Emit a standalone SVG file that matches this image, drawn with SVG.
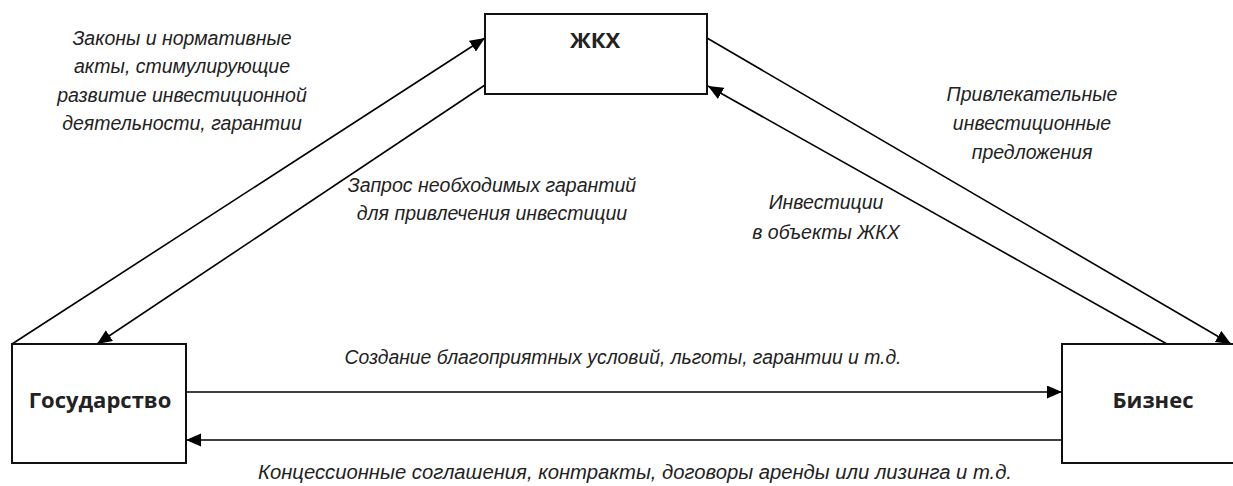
<svg xmlns="http://www.w3.org/2000/svg" width="1233" height="486" viewBox="0 0 1233 486">
<defs>
<style>
.box{fill:#fff;stroke:#111;stroke-width:2}
.lbl{font-family:"Open Sans","Liberation Sans",sans-serif;font-weight:700;font-size:22px;fill:#222;text-anchor:middle}
.it{font-family:"Liberation Sans",Arial,sans-serif;font-style:italic;font-size:19.5px;fill:#222;text-anchor:middle}
.ln{stroke:#000;stroke-width:1.6;fill:none}
</style>
<marker id="ah" markerUnits="userSpaceOnUse" markerWidth="16" markerHeight="14" refX="15" refY="6.5" orient="auto">
<path d="M0,0 L15,6.5 L0,13 z" fill="#000"/>
</marker>
</defs>
<rect width="1233" height="486" fill="#fff"/>
<g id="connectors">
<line class="ln" x1="12" y1="344" x2="485" y2="38" marker-end="url(#ah)"/>
<line class="ln" x1="485" y1="85" x2="97" y2="344" marker-end="url(#ah)"/>
<line class="ln" x1="707" y1="38" x2="1231" y2="344" marker-end="url(#ah)"/>
<line class="ln" x1="1167" y1="344" x2="708" y2="86" marker-end="url(#ah)"/>
<line class="ln" x1="186" y1="392" x2="1062" y2="392" marker-end="url(#ah)"/>
<line class="ln" x1="1062" y1="440" x2="186" y2="440" marker-end="url(#ah)"/>
</g>
<g id="zhkh">
<rect class="box" x="485" y="14" width="222" height="80"/>
<text class="lbl" x="595" y="48">ЖКХ</text>
</g>
<g id="gosudarstvo">
<rect class="box" x="12" y="344" width="174" height="119"/>
<text class="lbl" x="100" y="408">Государство</text>
</g>
<g id="biznes">
<rect class="box" x="1062" y="344" width="180" height="119"/>
<text class="lbl" x="1153" y="408">Бизнес</text>
</g>
<g id="labels">
<text class="it" x="182" y="45">Законы и нормативные</text>
<text class="it" x="182" y="73">акты, стимулирующие</text>
<text class="it" x="182" y="102">развитие инвестиционной</text>
<text class="it" x="182" y="130">деятельности, гарантии</text>
<text class="it" x="492" y="192">Запрос необходимых гарантий</text>
<text class="it" x="492" y="220">для привлечения инвестиции</text>
<text class="it" x="1032" y="101">Привлекательные</text>
<text class="it" x="1032" y="130">инвестиционные</text>
<text class="it" x="1032" y="159">предложения</text>
<text class="it" x="826" y="209">Инвестиции</text>
<text class="it" x="826" y="239">в объекты ЖКХ</text>
<text class="it" x="623" y="364" textLength="557" lengthAdjust="spacingAndGlyphs">Создание благоприятных  условий, льготы, гарантии и т.д.</text>
<text class="it" x="635" y="479" textLength="754" lengthAdjust="spacingAndGlyphs">Концессионные соглашения, контракты, договоры  аренды или лизинга и т.д.</text>
</g>
</svg>
